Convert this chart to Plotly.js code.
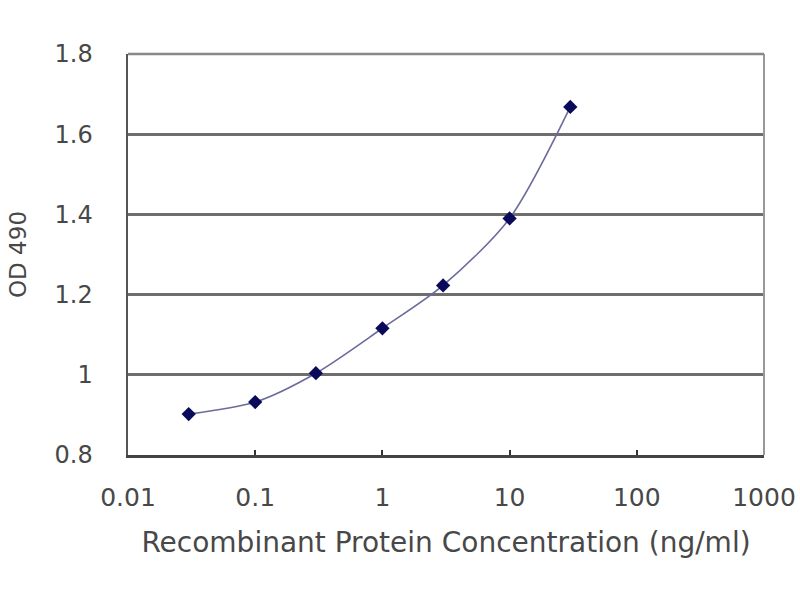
<!DOCTYPE html>
<html>
<head>
<meta charset="utf-8">
<script src="https://cdn.plot.ly/plotly-3.0.1.min.js"></script>
<style>html,body{margin:0;padding:0;background:#fff;}</style>
</head>
<body>
<div id="chart" style="width:800px;height:600px;"></div>
<script>
const concentration = [0.03, 0.1, 0.3, 1, 3, 10, 30];
const od490 = [0.902, 0.932, 1.004, 1.116, 1.223, 1.39, 1.668];
const xTickVals = [0.01, 0.1, 1, 10, 100, 1000];
const xTickText = ["0.01", "0.1", "1", "10", "100", "1000"];
const yTickVals = [0.8, 1, 1.2, 1.4, 1.6, 1.8];
const yTickText = ["0.8", "1", "1.2", "1.4", "1.6", "1.8"];

const fontFam = "DejaVu Sans, Liberation Sans, Arial, sans-serif";
const textColor = "#484848";

const trace = {
  x: concentration,
  y: od490,
  mode: "lines+markers",
  type: "scatter",
  line: {shape: "spline", smoothing: 0.8, color: "#6b6b9e", width: 1.6},
  marker: {symbol: "diamond", size: 11, color: "#0a0a5a"},
  hoverinfo: "x+y"
};

const layout = {
  width: 800, height: 600,
  margin: {l: 128, r: 36, t: 54, b: 145},
  paper_bgcolor: "#ffffff",
  plot_bgcolor: "#ffffff",
  showlegend: false,
  xaxis: {
    type: "log",
    range: [-2, 3],
    tickvals: xTickVals,
    ticktext: xTickText,
    ticks: "inside",
    ticklen: 5,
    tickwidth: 2,
    tickcolor: "#333",
    showgrid: false,
    zeroline: false,
    showline: true,
    linecolor: "#444",
    linewidth: 2.5,
    mirror: false,
    ticklabelstandoff: 18,
    tickfont: {family: fontFam, size: 25, color: textColor},
    title: {text: "Recombinant Protein Concentration (ng/ml)", font: {family: fontFam, size: 28, color: textColor}, standoff: 22}
  },
  yaxis: {
    range: [0.8, 1.8],
    tickvals: yTickVals,
    ticktext: yTickText,
    ticks: "",
    showgrid: true,
    gridcolor: "#6e6e6e",
    gridwidth: 2.8,
    zeroline: false,
    showline: true,
    linecolor: "#555",
    linewidth: 2.5,
    ticklabelstandoff: 28,
    tickfont: {family: fontFam, size: 24, color: textColor},
    title: {text: "OD 490", font: {family: fontFam, size: 23, color: textColor}, standoff: 22}
  },
  shapes: [
    {type: "line", xref: "paper", yref: "paper", x0: 1, x1: 1, y0: 0, y1: 1, line: {color: "#999", width: 2}},
    {type: "line", xref: "paper", yref: "paper", x0: 0, x1: 1, y0: 1, y1: 1, line: {color: "#888", width: 2.5}}
  ]
};

Plotly.newPlot("chart", [trace], layout, {displayModeBar: false, staticPlot: true});
</script>
</body>
</html>
